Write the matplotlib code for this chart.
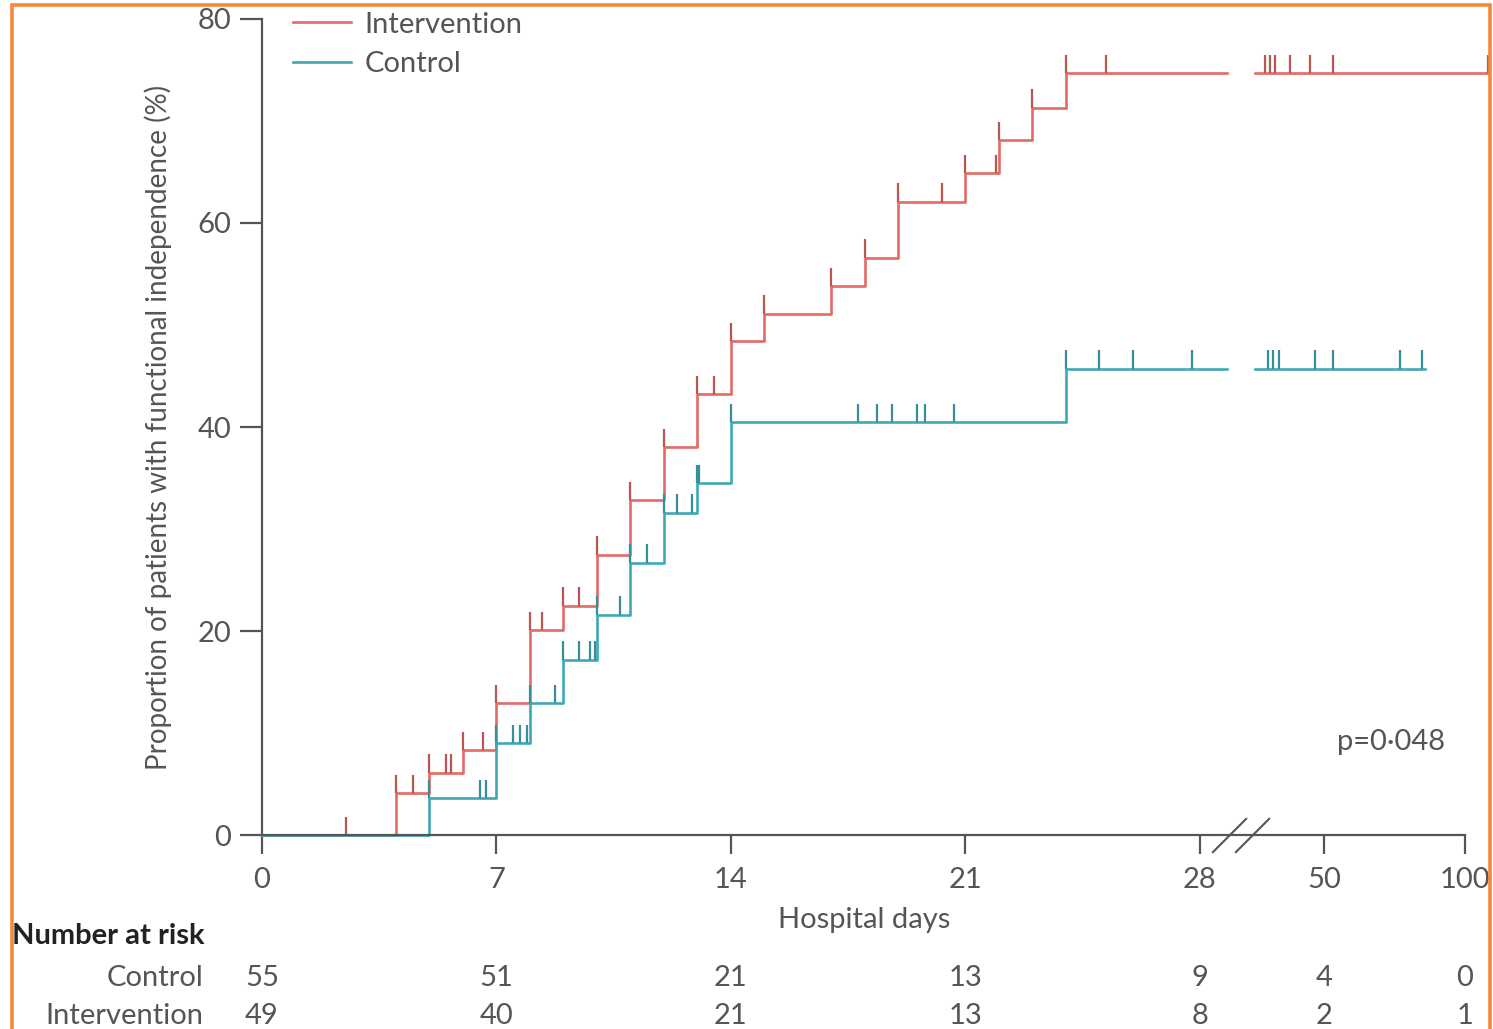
import numpy as np
import matplotlib
matplotlib.use("Agg")
import matplotlib.pyplot as plt
from matplotlib import transforms
from matplotlib.patches import Rectangle

# Steps of the curves: hospital day of each step and the level (%) after it
int_times = [0, 4, 5, 6, 7, 8, 9, 10, 11, 12, 13, 14, 15, 17, 18, 19, 21, 22, 23, 24]
int_level = [0, 4.1, 6.1, 8.3, 12.9, 20.1, 22.5, 27.5, 32.8, 38.0, 43.2, 48.4,
             51.1, 53.8, 56.6, 62.1, 64.9, 68.1, 71.3, 74.7]
int_censor = [2.5, 4.5, 5.5, 5.65, 6.6, 8.35, 9.45, 13.5, 20.3, 21.9, 25.2,
              37.2, 38.3, 39.4, 42.6, 46.9, 53.2, 108.2]
int_end = 108.2

ctl_times = [0, 5, 7, 8, 9, 10, 11, 12, 13, 14, 24]
ctl_level = [0, 3.6, 9.0, 12.9, 17.2, 21.6, 26.7, 31.6, 34.5, 40.5, 45.7]
ctl_censor = [6.5, 6.7, 7.5, 7.7, 7.9, 8.75, 9.45, 9.8, 9.95, 10.7, 11.5, 12.4,
              12.85, 13.05, 17.8, 18.35, 18.8, 19.55, 19.8, 20.65, 25.0, 26.0,
              27.75, 37.8, 38.9, 40.2, 48.0, 53.2, 77.0, 84.8]
ctl_end = 85.8

day_ticks = [0, 7, 14, 21, 28, 50, 100]
risk_control = [55, 51, 21, 13, 9, 4, 0]
risk_intervention = [49, 40, 21, 13, 8, 2, 1]

# broken x axis: linear days up to the break, compressed afterwards
day_knots = [0, 28.8, 35, 50, 100, 120]
pos_knots = [0, 28.8, 29.64, 31.70, 35.91, 37.6]
gap_start, gap_end = 28.8, 35
break_marks = [29.3, 34.3]

RED = '#E26A64'
TEAL = '#3DA9B6'
GREY = '#555555'

plt.rcParams['font.family'] = ['Lato', 'DejaVu Sans']

W, H = 1493, 1029
fig = plt.figure(figsize=(W / 100, H / 100), dpi=100)
ax = fig.add_axes([262 / W, (H - 835) / H, (1492 - 262) / W, (835 - 19) / H])
ax.set_xscale('function', functions=(lambda d: np.interp(d, day_knots, pos_knots),
                                     lambda p: np.interp(p, pos_knots, day_knots)))


def level_at(times, levels, t):
    idx = np.searchsorted(times, t, side='right') - 1
    return np.asarray(levels)[idx]


def draw_km(times, levels, censor, end, color, tick_color, label):
    for a, b in [(0, gap_start), (gap_end, end)]:
        xs = [a] + [t for t in times if a < t < b] + [b]
        ys = level_at(times, levels, xs)
        ax.step(xs, ys, where='post', color=color, lw=1.9, clip_on=False,
                label=label if a == 0 else None)
    ev = np.array(list(times[1:]) + list(censor), dtype=float)
    lv = level_at(times, levels, ev)
    ax.vlines(ev, lv, lv + 1.8, color=tick_color, lw=1.6, clip_on=False)


draw_km(int_times, int_level, int_censor, int_end, RED, '#B8564F', 'Intervention')
draw_km(ctl_times, ctl_level, ctl_censor, ctl_end, TEAL, '#36909B', 'Control')

ax.set_xlim(0, 109.6)
ax.set_ylim(0, 80)
ax.set_xticks(day_ticks)
ax.set_xticklabels([str(d) for d in day_ticks])
ax.set_yticks([0, 20, 40, 60, 80])
ax.xaxis.set_minor_locator(plt.NullLocator())

for s in ['top', 'right']:
    ax.spines[s].set_visible(False)
for s in ['left', 'bottom']:
    ax.spines[s].set_color(GREY)
    ax.spines[s].set_linewidth(1.6)
ax.spines['bottom'].set_bounds(0, 100)
ax.tick_params(axis='y', length=16, width=1.6, pad=6, labelsize=21, colors=GREY)
ax.tick_params(axis='x', length=14, width=1.6, pad=9, labelsize=21, colors=GREY)

# axis break marks
ax.plot(break_marks, [0, 0], linestyle='none', marker=[(-1, -1), (1, 1)],
        markersize=25, markeredgewidth=1.5, color=GREY, clip_on=False)

ax.set_ylabel('Proportion of patients with functional independence (%)',
              fontsize=20, color=GREY)
ax.yaxis.set_label_coords((172 - 262) / 1230, 0.5)
ax.set_xlabel('Hospital days', fontsize=21, color=GREY)
ax.xaxis.label.set_va('center')
ax.xaxis.set_label_coords((864 - 262) / 1230, -(920 - 835) / 816)

ax.legend(loc='upper left', bbox_to_anchor=(0.025, 1.009), frameon=False,
          fontsize=21, handlelength=2.0, handletextpad=0.45, labelspacing=0.45,
          borderpad=0, borderaxespad=0, labelcolor=GREY)

ax.text((1445 - 262) / 1230, (835 - 742) / 816, 'p=0·048', transform=ax.transAxes,
        ha='right', va='center', fontsize=21, color=GREY)

# number at risk table
bt = transforms.blended_transform_factory(ax.transData, fig.transFigure)
fig.text(12 / W, 1 - 936 / H, 'Number at risk', ha='left', va='center',
         fontsize=21, weight='bold', color='#222222')
for name, vals, ypx in [('Control', risk_control, 978),
                        ('Intervention', risk_intervention, 1016)]:
    fig.text(203 / W, 1 - ypx / H, name, ha='right', va='center', fontsize=21, color=GREY)
    for d, v in zip(day_ticks, vals):
        ax.text(d, 1 - ypx / H, str(v), transform=bt, ha='center', va='center',
                fontsize=21, color=GREY)

fig.add_artist(Rectangle((12 / W, -0.1), (1490 - 12) / W, 1.1 - 5 / H,
                         transform=fig.transFigure, fill=False,
                         edgecolor='#F5883A', linewidth=2.6))

fig.savefig('out.png', dpi=100)
